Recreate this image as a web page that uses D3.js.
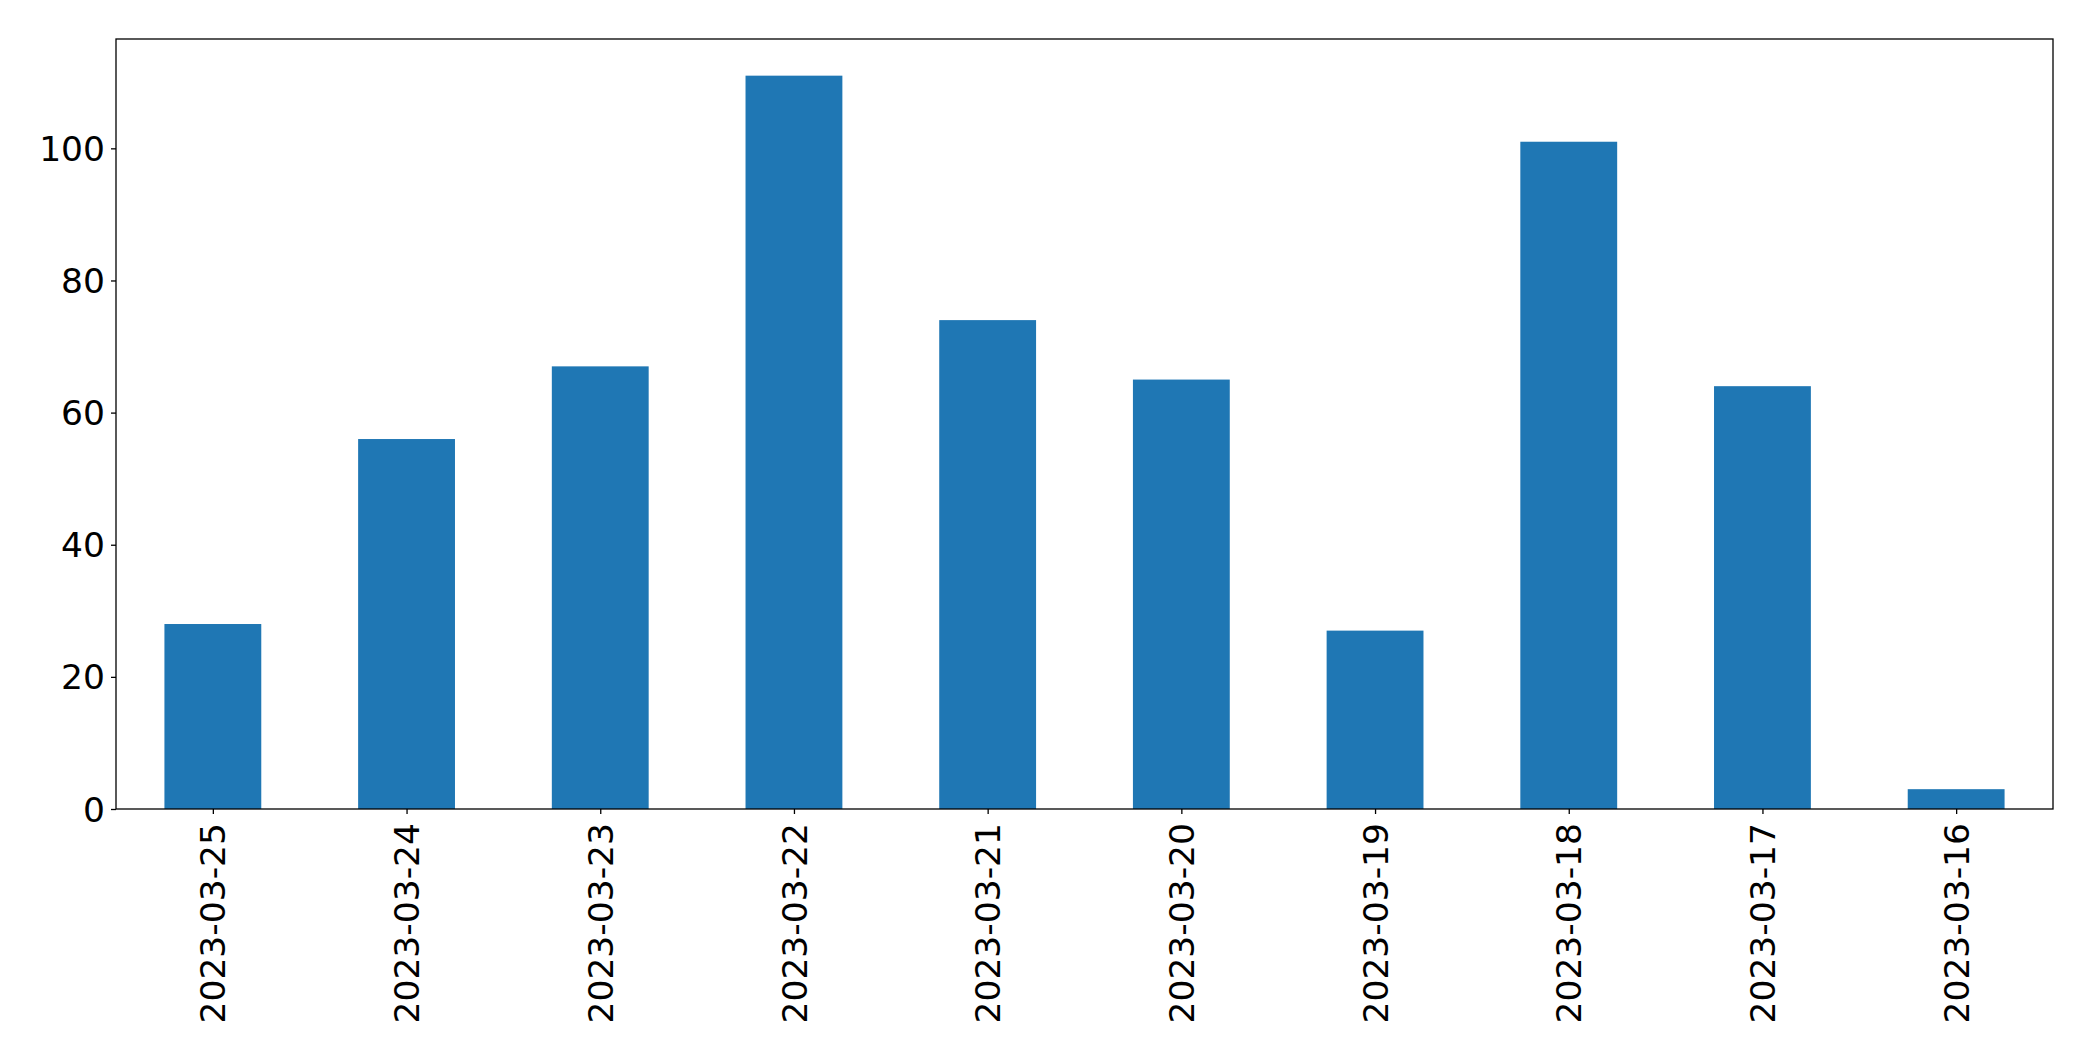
<!DOCTYPE html>
<html><head><meta charset="utf-8">
<script src="https://cdn.jsdelivr.net/npm/d3@7"></script>
<style>body{margin:0;background:#fff}svg{display:block}text{font-family:"DejaVu Sans",sans-serif}</style>
</head><body><svg id="c" width="2093" height="1061"></svg>
<script>
const categories = ["2023-03-25","2023-03-24","2023-03-23","2023-03-22","2023-03-21","2023-03-20","2023-03-19","2023-03-18","2023-03-17","2023-03-16"];
const values = [28, 56, 67, 111, 74, 65, 27, 101, 64, 3];
const yTicks = [0, 20, 40, 60, 80, 100];

const svg = d3.select("#c");
const L = 116, R = 2053, T = 39, B = 809;
const n = categories.length;
const x = d3.scaleLinear().domain([-0.5, n - 0.5]).range([L, R]);
const y = d3.scaleLinear().domain([0, d3.max(values) * 1.05]).range([B, T]);
const bw = 0.5;

svg.append("g").selectAll("rect").data(values).join("rect")
  .attr("x", (d, i) => x(i - bw / 2))
  .attr("width", (d, i) => x(i + bw / 2) - x(i - bw / 2))
  .attr("y", d => y(d))
  .attr("height", d => B - y(d))
  .attr("fill", "#1f77b4");

const yAxis = svg.append("g").attr("transform", `translate(${L},0)`)
  .call(d3.axisLeft(y).tickValues(yTicks).tickSize(5).tickPadding(6));
const xAxis = svg.append("g").attr("transform", `translate(0,${B})`)
  .call(d3.axisBottom(x).tickValues(d3.range(n)).tickFormat(i => categories[i]).tickSize(5).tickPadding(0));

[yAxis, xAxis].forEach(g => {
  g.select(".domain").remove();
  g.selectAll(".tick line").attr("stroke", "#000").attr("stroke-width", 1.3);
  g.selectAll("text").attr("font-size", 34.5).attr("fill", "#000").attr("font-family", "DejaVu Sans");
});
yAxis.selectAll("text").attr("dy", "0.35em");
xAxis.selectAll("text")
  .attr("transform", "rotate(-90)")
  .attr("text-anchor", "end")
  .attr("x", -14).attr("y", 0).attr("dy", "0.35em");

svg.append("rect").attr("x", L).attr("y", T).attr("width", R - L).attr("height", B - T)
  .attr("fill", "none").attr("stroke", "#000").attr("stroke-width", 1.3);
</script></body></html>
